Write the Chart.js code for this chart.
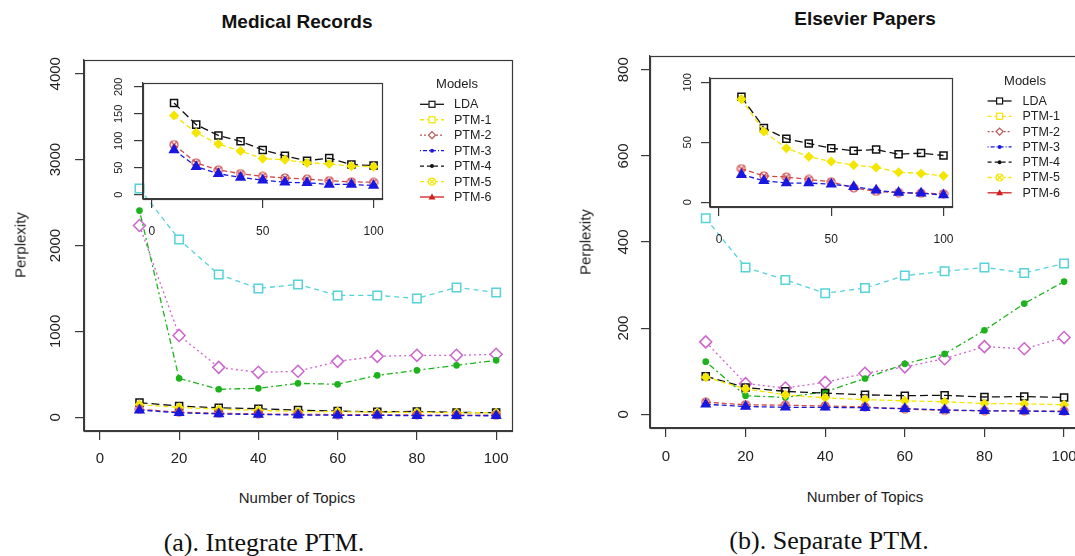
<!DOCTYPE html>
<html>
<head>
<meta charset="utf-8">
<script src="https://cdn.jsdelivr.net/npm/chart.js@4.4.1/dist/chart.umd.min.js"></script>
<style>
  body { margin: 0; background: #fff; }
  #page { position: relative; width: 1075px; height: 556px; overflow: hidden; background: #fff;
          font-family: "Liberation Sans", Arial, sans-serif; color: #222; }
  canvas { position: absolute; }
  .txt { position: absolute; white-space: nowrap; line-height: 1; transform: translate(-50%, -50%); }
  .title { font-weight: bold; font-size: 19px; color: #111; }
  .axt { font-size: 15px; color: #222; }
  .rot { transform: translate(-50%, -50%) rotate(-90deg); }
  .cap { font-family: "Liberation Serif", "Times New Roman", serif; font-size: 26px; color: #111; }
</style>
</head>
<body>
<div id="page">
  <canvas id="mainA" width="540" height="440" style="left:0px;top:40px"></canvas>
  <canvas id="insetA" width="300" height="175" style="left:100px;top:70px"></canvas>
  <canvas id="mainB" width="540" height="440" style="left:560px;top:40px"></canvas>
  <canvas id="insetB" width="305" height="185" style="left:665px;top:67px"></canvas>

  <div class="txt title" style="left:297px;top:21px">Medical Records</div>
  <div class="txt title" style="left:865px;top:18px">Elsevier Papers</div>
  <div class="txt axt rot" style="left:20px;top:245px">Perplexity</div>
  <div class="txt axt rot" style="left:585px;top:242px">Perplexity</div>
  <div class="txt axt" style="left:297px;top:497px">Number of Topics</div>
  <div class="txt axt" style="left:865px;top:496px">Number of Topics</div>
  <div class="txt cap" style="left:264px;top:543px">(a). Integrate PTM.</div>
  <div class="txt cap" style="left:829px;top:541px">(b). Separate PTM.</div>
</div>

<script>
// x values and tick labels
const topics = [10, 20, 30, 40, 50, 60, 70, 80, 90, 100];
const xTicks = [0, 20, 40, 60, 80, 100];
const insetXTicks = [0, 50, 100];
const medYTicks = [0, 1000, 2000, 3000, 4000];
const medInsetYTicks = [0, 50, 100, 150, 200];
const elsYTicks = [0, 200, 400, 600, 800];
const elsInsetYTicks = [0, 50, 100];

// Medical Records
const medCyan   = [2663, 2070, 1663, 1500, 1547, 1419, 1419, 1384, 1512, 1453];
const medOrchid = [2233, 953, 581, 523, 535, 651, 709, 721, 721, 733];
const medGreen  = [2407, 453, 326, 337, 395, 384, 488, 547, 605, 663];
const medLda    = [170, 130, 110, 99, 83, 72, 63, 68, 56, 54];
const medYellow = [147, 115, 94, 81, 67, 65, 59, 57, 53, 52];
const medRed    = [93, 59, 46, 39, 34, 31, 29, 26, 24, 23];
const medBlue   = [83, 52, 39, 32, 27, 23, 22, 19, 19, 17];

// Elsevier Papers
const elsCyan   = [455, 341, 312, 281, 293, 322, 332, 341, 328, 350];
const elsOrchid = [168, 71, 61, 74, 95, 110, 129, 157, 152, 178];
const elsGreen  = [122, 43, 39, 52, 83, 117, 140, 195, 257, 308];
const elsLda    = [88, 62, 53, 49, 45, 43, 44, 40, 41, 39];
const elsYellow = [86, 59, 45, 38, 34, 31, 29, 25, 24, 22];
const elsRed    = [28, 22, 21, 19, 17, 12, 9, 8, 7.5, 7];
const elsBlue   = [23, 18, 16, 16, 15, 13, 10, 8, 7.5, 6];

// legend entries
const legendModels = ['LDA', 'PTM-1', 'PTM-2', 'PTM-3', 'PTM-4', 'PTM-5', 'PTM-6'];

const AX = '#3a3a3a';
const FONT = '"Liberation Sans", Arial, sans-serif';
const YEL = '#F4E600';
const RED = '#D04848';
const BLUE = '#1818E0';

// circle with a cross, used as a point style
function crossCircle(color, size) {
    const c = document.createElement('canvas');
    c.width = c.height = size;
    const g = c.getContext('2d');
    const m = size / 2, r = size / 2 - 1;
    g.strokeStyle = color;
    g.lineWidth = 1.2;
    g.beginPath();
    g.arc(m, m, r, 0, Math.PI * 2);
    g.stroke();
    const d = r * 0.75;
    g.beginPath();
    g.moveTo(m - d, m - d); g.lineTo(m + d, m + d);
    g.moveTo(m + d, m - d); g.lineTo(m - d, m + d);
    g.stroke();
    return c;
}

const redCross = crossCircle(RED, 10);

// fill: true = solid, 'white' = hollow with a blank centre, false = see-through
function series(values, color, dash, pointStyle, radius, fill) {
    let bg = 'rgba(0,0,0,0)';
    if (fill === true) bg = color;
    if (fill === 'white') bg = '#fff';
    return {
        data: values.map((v, i) => ({ x: topics[i], y: v })),
        borderColor: color,
        borderWidth: 1.3,
        borderDash: dash,
        pointStyle: pointStyle,
        pointRadius: radius,
        pointBorderWidth: 1.5,
        pointBorderColor: color,
        pointBackgroundColor: bg,
        tension: 0,
        clip: false
    };
}

function smallSeries(lda, yellow, red, blue) {
    return [
        series(blue, BLUE, [5, 3], 'triangle', 5, true),
        series(red, RED, [5, 3], redCross, 5, false),
        series(yellow, YEL, [5, 3], 'rectRot', 4, true),
        series(lda, '#111', [8, 4], 'rect', 5, false)
    ];
}

// box around the plot region, like R
const boxPlugin = {
    id: 'box',
    afterDraw(chart) {
        const a = chart.chartArea;
        const ctx = chart.ctx;
        ctx.save();
        ctx.strokeStyle = AX;
        ctx.lineWidth = 1.2;
        ctx.strokeRect(Math.round(a.left) + 0.5, Math.round(a.top) + 0.5,
            Math.round(a.right - a.left), Math.round(a.bottom - a.top));
        ctx.restore();
    }
};

function drawMark(ctx, mark, x, y, color) {
    ctx.save();
    ctx.setLineDash([]);
    ctx.strokeStyle = color;
    ctx.fillStyle = '#fff';
    ctx.lineWidth = 1.2;
    if (mark === 'square') {
        ctx.fillRect(x - 3.5, y - 3.5, 7, 7);
        ctx.strokeRect(x - 3, y - 3, 6, 6);
    } else if (mark === 'diamond') {
        ctx.fillRect(x - 4, y - 4, 8, 8);
        ctx.beginPath();
        ctx.moveTo(x, y - 3.5); ctx.lineTo(x + 3.5, y); ctx.lineTo(x, y + 3.5); ctx.lineTo(x - 3.5, y);
        ctx.closePath(); ctx.stroke();
    } else if (mark === 'dot') {
        ctx.fillStyle = color;
        ctx.beginPath(); ctx.arc(x, y, 2, 0, Math.PI * 2); ctx.fill();
    } else if (mark === 'xcircle') {
        ctx.fillRect(x - 4, y - 4, 8, 8);
        ctx.beginPath(); ctx.arc(x, y, 3.5, 0, Math.PI * 2); ctx.stroke();
        ctx.beginPath();
        ctx.moveTo(x - 2.5, y - 2.5); ctx.lineTo(x + 2.5, y + 2.5);
        ctx.moveTo(x + 2.5, y - 2.5); ctx.lineTo(x - 2.5, y + 2.5);
        ctx.stroke();
    } else if (mark === 'triangle') {
        ctx.fillStyle = color;
        ctx.beginPath();
        ctx.moveTo(x, y - 3.5); ctx.lineTo(x + 3.5, y + 2.5); ctx.lineTo(x - 3.5, y + 2.5);
        ctx.closePath(); ctx.fill();
    }
    ctx.restore();
}

const legendLooks = [
    { color: '#111', dash: [], mark: 'square' },
    { color: YEL, dash: [4, 3], mark: 'square' },
    { color: '#B85450', dash: [2, 2], mark: 'diamond' },
    { color: BLUE, dash: [1, 2, 4, 2], mark: 'dot' },
    { color: '#111', dash: [4, 3], mark: 'dot' },
    { color: YEL, dash: [4, 3], mark: 'xcircle' },
    { color: '#D02020', dash: [], mark: 'triangle' }
];

function legendPlugin(titleX, titleY, lineX, textX, firstY, step) {
    return {
        id: 'modelsLegend',
        afterDraw(chart) {
            const ctx = chart.ctx;
            ctx.save();
            ctx.fillStyle = '#222';
            ctx.font = '13px ' + FONT;
            ctx.textAlign = 'center';
            ctx.textBaseline = 'middle';
            ctx.fillText('Models', titleX, titleY);
            ctx.textAlign = 'left';
            ctx.font = '12.5px ' + FONT;
            legendModels.forEach((name, i) => {
                const y = firstY + i * step;
                const look = legendLooks[i];
                ctx.strokeStyle = look.color;
                ctx.lineWidth = 1.3;
                ctx.setLineDash(look.dash);
                ctx.beginPath();
                ctx.moveTo(lineX, y);
                ctx.lineTo(lineX + 24, y);
                ctx.stroke();
                drawMark(ctx, look.mark, lineX + 12, y, look.color);
                ctx.fillStyle = '#222';
                ctx.fillText(name, textX, y + 0.5);
            });
            ctx.restore();
        }
    };
}

function makeChart(id, c) {
    return new Chart(document.getElementById(id), {
        type: 'line',
        data: { datasets: c.datasets },
        options: {
            responsive: false,
            animation: false,
            events: [],
            layout: { padding: c.padding },
            plugins: { legend: { display: false }, tooltip: { enabled: false } },
            scales: {
                x: {
                    type: 'linear',
                    min: c.xMin, max: c.xMax,
                    afterBuildTicks: s => { s.ticks = c.xTicks.map(v => ({ value: v })); },
                    afterFit: s => { s.height = c.xHeight; },
                    grid: { drawOnChartArea: false, drawTicks: true, tickLength: 9, color: AX, lineWidth: 1.2 },
                    border: { display: true, color: AX, width: 1.2 },
                    ticks: {
                        font: { family: FONT, size: c.fontSize }, color: '#222',
                        padding: c.xPad, maxRotation: 0, autoSkip: false,
                        callback: v => String(v)
                    }
                },
                y: {
                    type: 'linear',
                    min: c.yMin, max: c.yMax,
                    afterBuildTicks: s => { s.ticks = c.yTicks.map(v => ({ value: v })); },
                    afterFit: s => { s.width = c.yWidth; },
                    grid: { drawOnChartArea: false, drawTicks: true, tickLength: 9, color: AX, lineWidth: 1.2 },
                    border: { display: true, color: AX, width: 1.2 },
                    ticks: {
                        font: { family: FONT, size: c.yFontSize || c.fontSize }, color: '#222',
                        padding: c.yPad, minRotation: 90, maxRotation: 90, crossAlign: 'center',
                        autoSkip: false,
                        callback: v => String(v)
                    }
                }
            }
        },
        plugins: [boxPlugin].concat(c.extra || [])
    });
}

// Medical Records main plot
makeChart('mainA', {
    datasets: smallSeries(medLda, medYellow, medRed, medBlue).concat([
        series(medGreen, '#1DB31D', [2, 3, 6, 3], 'circle', 2.6, true),
        series(medOrchid, '#CC66CC', [2, 3], 'rectRot', 6, 'white'),
        series(medCyan, '#55D3D8', [5, 4], 'rect', 6, 'white')
    ]),
    xMin: -4, xMax: 104, yMin: -160, yMax: 4160,
    xTicks: xTicks, yTicks: medYTicks,
    padding: { top: 20, right: 28, left: 0, bottom: 0 },
    yWidth: 84, xHeight: 49, xPad: 10, yPad: 2, fontSize: 15,
    extra: [legendPlugin(457, 44, 420, 454, 64.3, 15.45)]
});

makeChart('insetA', {
    datasets: smallSeries(medLda, medYellow, medRed, medBlue),
    xMin: -4, xMax: 104, yMin: -8, yMax: 208,
    xTicks: insetXTicks, yTicks: medInsetYTicks,
    padding: { top: 10, right: 11, left: 0, bottom: 0 },
    yWidth: 43, xHeight: 46, xPad: 16, yPad: 6, fontSize: 12, yFontSize: 11
});

// Elsevier Papers main plot
makeChart('mainB', {
    datasets: smallSeries(elsLda, elsYellow, elsRed, elsBlue).concat([
        series(elsGreen, '#1DB31D', [2, 3, 6, 3], 'circle', 2.6, true),
        series(elsOrchid, '#CC66CC', [2, 3], 'rectRot', 6, 'white'),
        series(elsCyan, '#55D3D8', [5, 4], 'rect', 6, 'white')
    ]),
    xMin: -4, xMax: 104, yMin: -32, yMax: 832,
    xTicks: xTicks, yTicks: elsYTicks,
    padding: { top: 16, right: 20, left: 0, bottom: 0 },
    yWidth: 90, xHeight: 52, xPad: 10.5, yPad: 5, fontSize: 15,
    extra: [legendPlugin(465, 41, 427.6, 462.5, 61, 15.3)]
});

makeChart('insetB', {
    datasets: smallSeries(elsLda, elsYellow, elsRed, elsBlue),
    xMin: -4, xMax: 104, yMin: -4, yMax: 104,
    xTicks: insetXTicks, yTicks: elsInsetYTicks,
    padding: { top: 10, right: 13, left: 0, bottom: 0 },
    yWidth: 45, xHeight: 45, xPad: 16, yPad: 4, fontSize: 12, yFontSize: 11
});
</script>
</body>
</html>
